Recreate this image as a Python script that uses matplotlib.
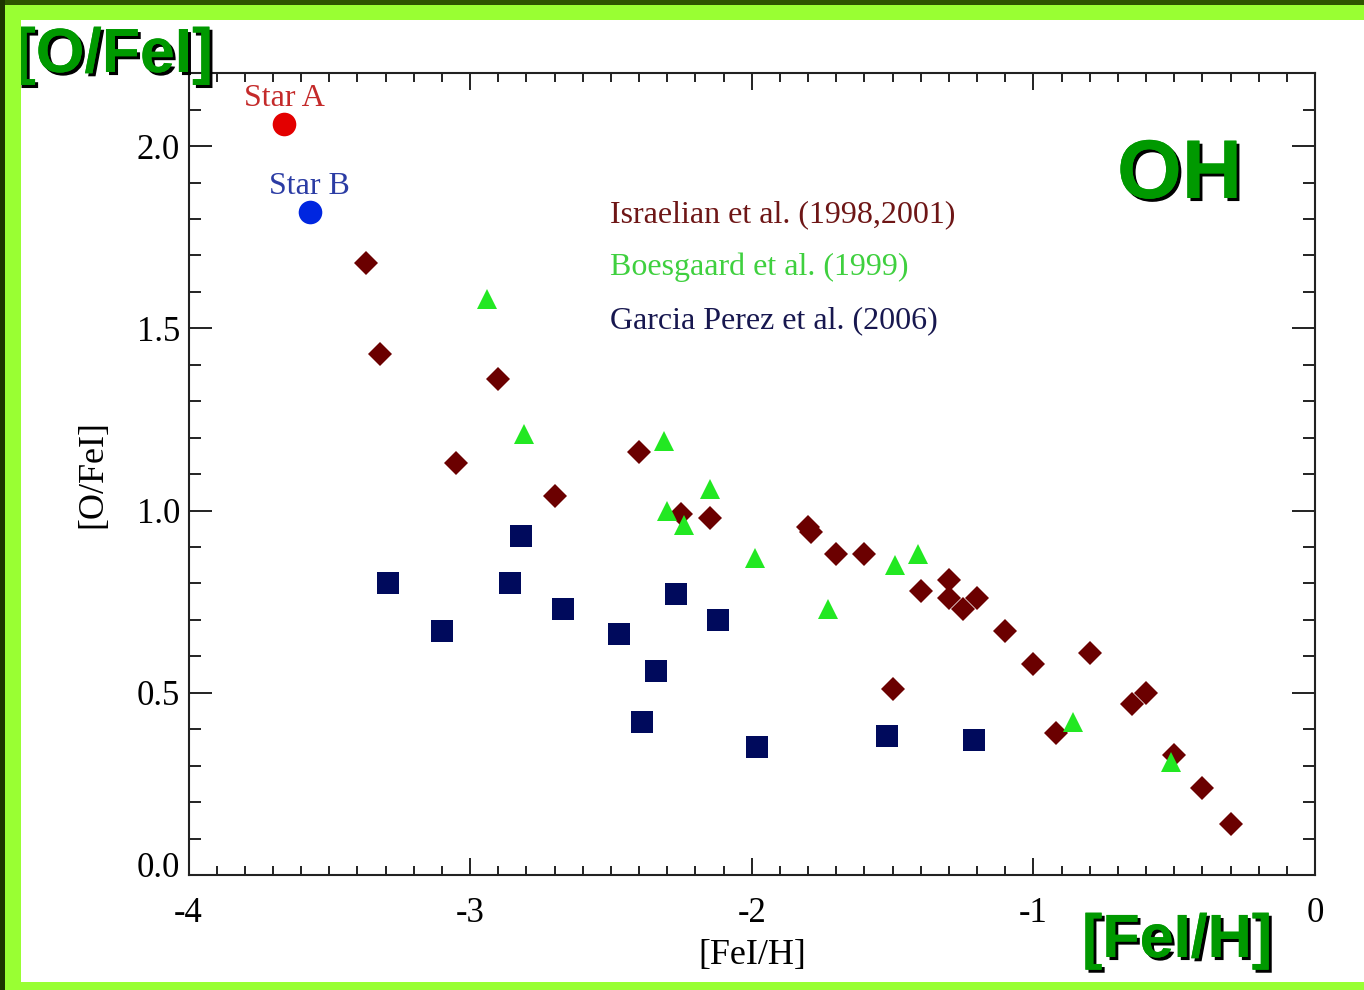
import matplotlib.pyplot as plt
import matplotlib.patheffects as pe
from matplotlib.patches import Rectangle
from matplotlib.ticker import MultipleLocator
from matplotlib.transforms import ScaledTranslation

# Israelian et al. (1998, 2001) - OH dwarfs
isr_feh = [-3.37, -3.32, -2.90, -3.05, -2.70, -2.40, -2.25, -2.15, -1.80, -1.79,
           -1.70, -1.60, -1.40, -1.30, -1.30, -1.25, -1.20, -1.10, -1.00, -1.50,
           -0.80, -0.65, -0.60, -0.92, -0.50, -0.40, -0.30]
isr_ofe = [1.68, 1.43, 1.36, 1.13, 1.04, 1.16, 0.99, 0.98, 0.955, 0.94,
           0.88, 0.88, 0.78, 0.81, 0.76, 0.73, 0.76, 0.67, 0.58, 0.51,
           0.61, 0.47, 0.50, 0.39, 0.33, 0.24, 0.14]

# Boesgaard et al. (1999)
boe_feh = [-2.94, -2.81, -2.31, -2.15, -2.30, -2.24, -1.99, -1.73, -1.49, -1.41, -0.86, -0.51]
boe_ofe = [1.58, 1.21, 1.19, 1.06, 1.00, 0.96, 0.87, 0.73, 0.85, 0.88, 0.42, 0.31]

# Garcia Perez et al. (2006)
gp_feh = [-3.29, -3.10, -2.82, -2.86, -2.67, -2.47, -2.27, -2.12, -2.34, -2.39, -1.98, -1.52, -1.21]
gp_ofe = [0.80, 0.67, 0.93, 0.80, 0.73, 0.66, 0.77, 0.70, 0.56, 0.42, 0.35, 0.38, 0.37]

# две звезды из нашей выборки
star_names = ['Star A', 'Star B']
star_feh = [-3.66, -3.57]
star_ofe = [2.06, 1.82]
star_colors = ['#e30000', '#0026e0']
star_text_colors = ['#c42a2a', '#2b3ca4']

refs = ['Israelian et al. (1998,2001)', 'Boesgaard et al. (1999)', 'Garcia Perez et al. (2006)']
ref_colors = ['#6e1616', '#3fd03f', '#17174f']

serif = ['Liberation Serif', 'DejaVu Serif']
fig = plt.figure(figsize=(13.64, 9.90), dpi=100)
ax = fig.add_axes([0.1382, 0.1162, 0.9641 - 0.1382, 0.926 - 0.1162])

ax.plot(isr_feh, isr_ofe, 'D', color='#6b0000', ms=12.5, mew=0, zorder=3)
ax.plot(boe_feh, boe_ofe, '^', color='#22e822', ms=14.5, mew=0, zorder=3)
ax.plot(gp_feh, gp_ofe, 's', color='#000a5c', ms=16, mew=0, zorder=3)

for name, x, y, c, tc in zip(star_names, star_feh, star_ofe, star_colors, star_text_colors):
    ax.plot(x, y, 'o', color=c, ms=17, mew=0, zorder=4)
    ax.text(x, y + 0.05, name, color=tc, fontsize=23, family=serif,
            ha='center', va='baseline')

for i, (txt, c) in enumerate(zip(refs, ref_colors)):
    ax.text(0.374, 0.8145 - i * 0.066, txt, color=c, fontsize=23, family=serif,
            transform=ax.transAxes, ha='left', va='baseline')

ax.set_xlim(-4, 0)
ax.set_ylim(0, 2.2)
ax.xaxis.set_minor_locator(MultipleLocator(0.1))
ax.yaxis.set_minor_locator(MultipleLocator(0.1))
ax.set_xticks([-4, -3, -2, -1, 0])
ax.set_xticklabels(['-4', '-3', '-2', '-1', '0'])
ax.set_yticks([0, 0.5, 1.0, 1.5, 2.0])
ax.set_yticklabels(['0.0', '0.5', '1.0', '1.5', '2.0'])

ax.tick_params(axis='both', which='both', direction='in', top=True, right=True,
               width=1.4, color='#222222')
ax.tick_params(axis='x', which='major', length=12, pad=16)
ax.tick_params(axis='x', which='minor', length=6.5)
ax.tick_params(axis='y', which='major', length=16.5, pad=6)
ax.tick_params(axis='y', which='minor', length=8.5)
for lab in ax.get_xticklabels() + ax.get_yticklabels():
    lab.set_family(serif)
    lab.set_fontsize(25)
for sp in ax.spines.values():
    sp.set_linewidth(1.5)
    sp.set_color('#222222')

# подпись 0.0 чуть выше, чтобы не налезала на -4
t0 = ax.yaxis.get_major_ticks()[0]
t0.label1.set_transform(t0.label1.get_transform()
                        + ScaledTranslation(0, 0.10, fig.dpi_scale_trans))

ax.set_xlabel('[FeI/H]', family=serif, fontsize=26, labelpad=6)
ax.set_ylabel('[O/FeI]', family=serif, fontsize=26, labelpad=20)

# зелёные подписи с чёрной тенью
shadow = [pe.withSimplePatchShadow(offset=(2.2, -2.2), shadow_rgbFace='black', alpha=1.0),
          pe.Normal()]
big = dict(color='#009900', fontweight='bold', family=['Liberation Sans', 'DejaVu Sans'],
           path_effects=shadow, zorder=10)
fig.text(1117 / 1364, 1 - 198 / 990, 'OH', fontsize=60, ha='left', va='baseline', **big)
fig.text(15 / 1364, 1 - 72 / 990, '[O/FeI]', fontsize=45, ha='left', va='baseline', **big)
fig.text(1082 / 1364, 1 - 957 / 990, '[FeI/H]', fontsize=44, ha='left', va='baseline', **big)

# рамка слайда
W, H = 1364, 990
frame = [(0, 0, W, 8, '#99ff33'),
         (0, H - 20, W, 15, '#99ff33'),
         (0, H - 5, W, 5, '#2d5500'),
         (5, 0, 16, H - 5, '#99ff33'),
         (0, 0, 5, H, '#1c3600')]
for x0, y0, w, h, c in frame:
    fig.patches.append(Rectangle((x0 / W, y0 / H), w / W, h / H, transform=fig.transFigure,
                                 facecolor=c, edgecolor='none', zorder=20))

fig.savefig('out.png', dpi=100)
